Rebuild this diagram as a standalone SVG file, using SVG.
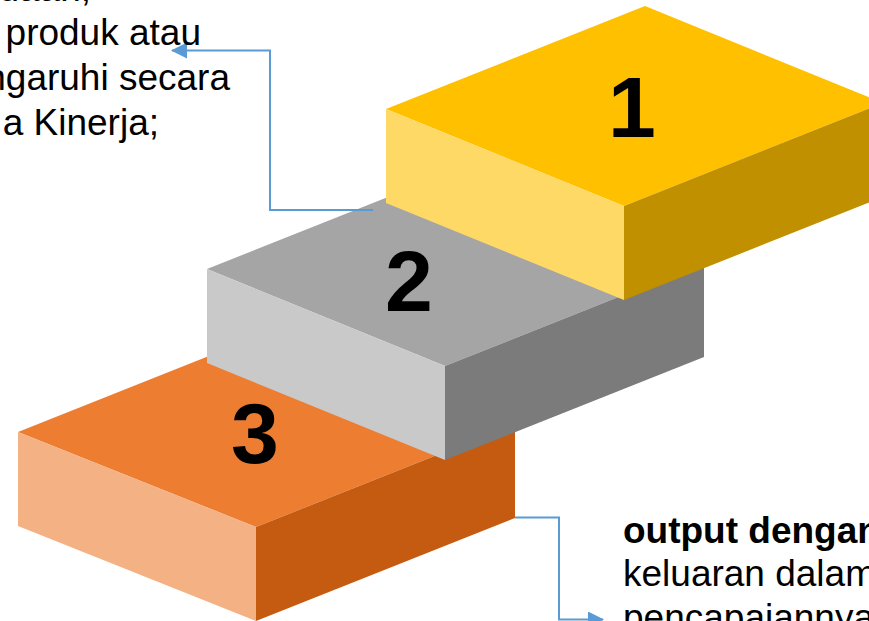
<svg xmlns="http://www.w3.org/2000/svg" width="869" height="621" viewBox="0 0 869 621">
<style>
.num{font-family:"Liberation Sans",Arial,sans-serif;font-weight:bold;font-size:86px;fill:#000;text-anchor:middle}
.txt{font-family:"Liberation Sans",Arial,sans-serif;font-size:37px;fill:#000}
.b{font-weight:bold}
.conn{fill:none;stroke:#5B9BD5;stroke-width:2}
</style>
<defs>
<marker id="ah" markerWidth="8" markerHeight="8" refX="7.5" refY="4" orient="auto" markerUnits="strokeWidth">
<path d="M0,0 L8,4 L0,8 Z" fill="#5B9BD5"/>
</marker>
</defs>
<rect width="869" height="621" fill="#fff"/>
<g id="step3">
<polygon points="18,432 277,329 515,424 256,527" fill="#ED7D31"/>
<polygon points="18,432 256,527 256,621 18,526" fill="#F4B183"/>
<polygon points="256,527 515,424 515,518 256,621" fill="#C55A11"/>
<text class="num" x="255" y="463">3</text>
</g>
<g id="step2">
<polygon points="207,269 466,166 704,263 445,366" fill="#A5A5A5"/>
<polygon points="207,269 445,366 445,460 207,363" fill="#C9C9C9"/>
<polygon points="445,366 704,263 704,357 445,460" fill="#7B7B7B"/>
<text class="num" x="409" y="311">2</text>
</g>
<g id="step1">
<polygon points="386,109 645,6 883,103 624,206" fill="#FFC000"/>
<polygon points="386,109 624,206 624,300 386,203" fill="#FFD966"/>
<polygon points="624,206 883,103 883,197 624,300" fill="#C09000"/>
<text class="num" x="632" y="137">1</text>
</g>
<g id="connectors">
<polyline class="conn" points="373,210 270,210 270,50.5 172,50.5" marker-end="url(#ah)"/>
<polyline class="conn" points="515,517.5 559,517.5 559,619.5 603,619.5" marker-end="url(#ah)"/>
</g>
<g id="text-top">
<text class="txt" text-anchor="end" x="91" y="1">daan;</text>
<text class="txt" text-anchor="end" x="201" y="45">produk atau</text>
<text class="txt" text-anchor="end" x="230" y="90">ngaruhi secara</text>
<text class="txt" text-anchor="end" x="159" y="135">a Kinerja;</text>
</g>
<g id="text-bottom">
<text class="txt b" x="623" y="543">output dengan</text>
<text class="txt" x="623" y="586">keluaran dalam</text>
<text class="txt" x="623" y="630">pencapaiannya</text>
</g>
</svg>
